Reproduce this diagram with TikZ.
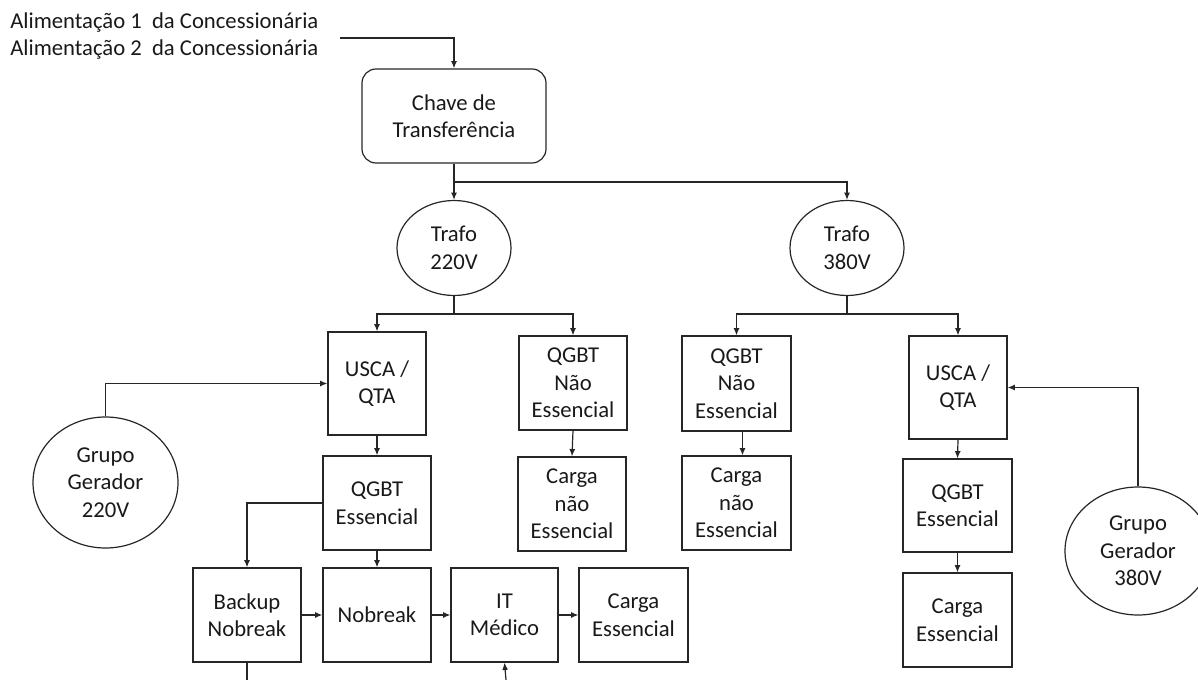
\documentclass[tikz,border=0pt]{standalone}
\usepackage{fontspec}
\setmainfont{Carlito}
\usetikzlibrary{shapes.geometric,arrows.meta}
\begin{document}
\begin{tikzpicture}[x=0.75pt,y=-0.75pt,
  every node/.style={font=\fontsize{17}{20.6}\selectfont, text=black!90, align=center, inner sep=0pt},
  sz/.style 2 args={minimum width={#1*0.75pt}, minimum height={#2*0.75pt}},
  blk/.style={draw=black!85, line width=0.9pt, rectangle},
  oval/.style={draw=black!85, line width=0.9pt, ellipse},
  wire/.style={draw=black!85, line width=0.9pt},
  arr/.style={wire, -{Latex[length=5.5pt,width=4.5pt]}},
]
\useasboundingbox (0,0) rectangle (1198,680);
\clip (0,0) rectangle (1198,680);

% supply feeds (base anchor sits on the last line)
\node[anchor=base west, align=left] (feeds) at (10,56)
  {Alimentação 1\ \ da Concessionária\\Alimentação 2\ \ da Concessionária};
\coordinate (feedin) at (340,38);

% transfer switch and transformers
\node[blk, rounded corners=10.5pt, sz={184}{94}] (chave) at (454,116) {Chave de\\Transferência};
\node[oval, sz={114}{95}] (t220) at (454,248) {Trafo\\220V};
\node[oval, sz={114}{95}] (t380) at (847,248) {Trafo\\380V};

% 220 V branch
\node[blk, sz={98}{103}] (usca1) at (377,383.5) {USCA /\\QTA};
\node[blk, sz={108}{94}] (qn1) at (573,383) {QGBT\\Não\\Essencial};
\node[blk, sz={108}{94}] (cn1) at (572,504) {Carga\\não\\Essencial};
\node[blk, sz={108}{94}] (qe1) at (377,503) {QGBT\\Essencial};
\node[blk, sz={108}{94}] (bk) at (247,615) {Backup\\Nobreak};
\node[blk, sz={108}{94}] (nb) at (377,615) {Nobreak};
\node[blk, sz={107}{94}] (it) at (504.5,615) {IT\\Médico};
\node[blk, sz={109}{94}] (ce1) at (633.5,615) {Carga\\Essencial};
\node[oval, sz={145}{131}] (g220) at (105.5,482.5) {Grupo\\Gerador\\220V};

% 380 V branch
\node[blk, sz={109}{95}] (qn2) at (736.5,383.5) {QGBT\\Não\\Essencial};
\node[blk, sz={109}{94}] (cn2) at (736.5,503) {Carga\\não\\Essencial};
\node[blk, sz={98}{103}] (usca2) at (958,387.5) {USCA /\\QTA};
\node[blk, sz={109}{93}] (qe2) at (957.5,505.5) {QGBT\\Essencial};
\node[blk, sz={109}{94}] (ce2) at (957.5,620) {Carga\\Essencial};
\node[oval, sz={146}{128}] (g380) at (1138,551) {Grupo\\Gerador\\380V};

% junction points
\coordinate (j0) at (454,182);
\coordinate (j1) at (454,314);
\coordinate (j2) at (847,314);
\coordinate (bkout) at (247,680);
\coordinate (itin) at (506,680);

% connectors
\draw[arr] (feedin) -| (chave.north);
\draw[wire] (chave.south) -- (j0);
\draw[arr] (j0) -- (t220.north);
\draw[arr] (j0) -| (t380.north);

\draw[wire] (t220.south) -- (j1);
\draw[arr] (j1) -| (usca1.north);
\draw[arr] (j1) -| (qn1.north);
\draw[wire] (t380.south) -- (j2);
\draw[arr] (j2) -| (qn2.north);
\draw[arr] (j2) -| (usca2.north);

\draw[arr] (g220.north) |- (usca1.west);
\draw[arr] (g380.north) |- (usca2.east);

\draw[arr] (usca1.south) -- (qe1.north);
\draw[arr] (qn1.south) -- (cn1.north);
\draw[arr] ([xshift=4.5pt]qn2.south) -- ([xshift=4.5pt]cn2.north);
\draw[arr] (usca2.south) -- (qe2.north);
\draw[arr] (qe2.south) -- (ce2.north);

\draw[arr] (qe1.south) -- (nb.north);
\draw[arr] (qe1.west) -| (bk.north);
\draw[arr] (bk.east) -- (nb.west);
\draw[arr] (nb.east) -- (it.west);
\draw[arr] (it.east) -- (ce1.west);
\draw[wire] (bk.south) -- (bkout);
\draw[arr] (itin) -- (it.south);
\end{tikzpicture}
\end{document}
